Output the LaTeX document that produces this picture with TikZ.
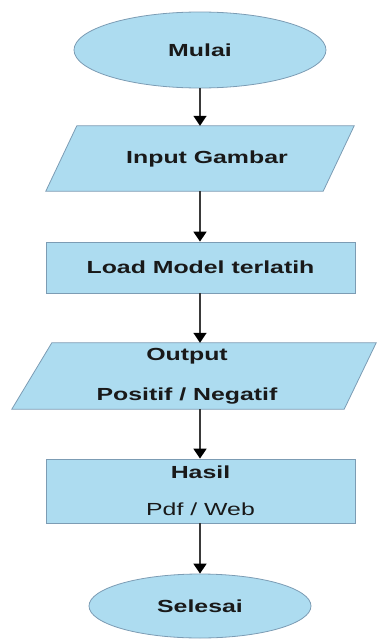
\documentclass[tikz,border=0pt]{standalone}
\usepackage{fontspec}
\setmainfont{Liberation Sans}
\newfontfamily\labfont[FakeStretch=1.42]{Liberation Sans}
\usetikzlibrary{shapes.geometric,arrows.meta,backgrounds}
\definecolor{boxfill}{HTML}{ADDCF0}
\definecolor{boxline}{HTML}{7C9CB4}
\definecolor{arrowline}{HTML}{3A3A3A}
\tikzset{
  x=1pt, y=1pt,
  lab/.style={font=\labfont\fontsize{17.5}{40}\selectfont, align=center, text=black!90},
  term/.style={ellipse, draw=boxline, fill=boxfill, line width=0.8pt, inner sep=0pt, lab},
  procbox/.style={rectangle, draw=boxline, fill=boxfill, line width=0.8pt, inner sep=0pt, lab},
  iobox/.style={rectangle, inner sep=0pt, lab},
  iofill/.style={draw=boxline, fill=boxfill, line width=0.8pt},
  flow/.style={draw=arrowline, line width=1.7pt, -{Triangle[length=10pt,width=13pt,color=black,fill=black]}}
}
\begin{document}
\begin{tikzpicture}
\useasboundingbox (0,0) rectangle (376,-640);
% terminals
\node[term, minimum width=252pt, minimum height=76pt] (m) at (200,-50) {\raisebox{-2pt}{\textbf{Mulai}}};
% input
\node[iobox, minimum width=308pt, minimum height=65pt] (in) at (200,-158.5) {\hspace*{14pt}\raisebox{-3pt}{\textbf{Input Gambar}}};
% load model
\node[procbox, minimum width=309pt, minimum height=51pt] (load) at (200.5,-267.5) {\textbf{Load Model terlatih}};
% output
\node[iobox, minimum width=364pt, minimum height=66pt] (out) at (194,-376) {\hspace*{-14pt}\raisebox{-3pt}{\textbf{Output}}\\\hspace*{-14pt}\raisebox{-3pt}{\textbf{Positif / Negatif}}};
% hasil
\node[procbox, minimum width=309pt, minimum height=64pt, font=\labfont\fontsize{17.5}{38}\selectfont] (has) at (200.5,-491) {\raisebox{-2pt}{\textbf{Hasil}}\\\raisebox{-1pt}{Pdf / Web}};
% selesai
\node[term, minimum width=222pt, minimum height=64pt] (sel) at (200,-606) {\textbf{Selesai}};
\begin{scope}[on background layer]
\path[iofill] (in.south west) -- ([xshift=31pt]in.north west) -- (in.north east) -- ([xshift=-31pt]in.south east) -- cycle;
\path[iofill] (out.south west) -- ([xshift=40pt]out.north west) -- (out.north east) -- ([xshift=-32pt]out.south east) -- cycle;
\end{scope}
% connectors
\draw[flow] (m.south) -- (m.south |- in.north);
\draw[flow] (m.south |- in.south) -- (m.south |- load.north);
\draw[flow] (m.south |- load.south) -- (m.south |- out.north);
\draw[flow] (m.south |- out.south) -- (m.south |- has.north);
\draw[flow] (m.south |- has.south) -- (sel.north);
\end{tikzpicture}
\end{document}
